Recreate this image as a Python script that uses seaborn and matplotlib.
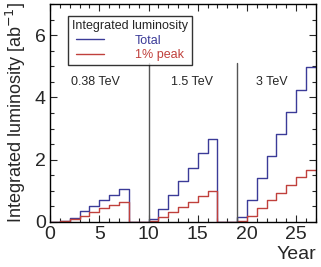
import numpy as np
import pandas as pd
import matplotlib
matplotlib.use("Agg")
import matplotlib.pyplot as plt
import seaborn as sns
from matplotlib.ticker import MultipleLocator

# bin edges (years) and integrated luminosity per year bin [ab^-1]
year_edges = list(range(0, 28))
total_lumi = [0.00, 0.04, 0.14, 0.34, 0.51, 0.69, 0.87, 1.06, 0.00, 0.00,
              0.10, 0.42, 0.87, 1.30, 1.74, 2.20, 2.65, 0.00, 0.00,
              0.15, 0.70, 1.40, 2.11, 2.82, 3.52, 4.24, 4.96]
peak_lumi = [0.00, 0.02, 0.08, 0.19, 0.31, 0.43, 0.54, 0.65, 0.00, 0.00,
             0.04, 0.16, 0.32, 0.48, 0.65, 0.82, 0.99, 0.00, 0.00,
             0.04, 0.20, 0.46, 0.70, 0.94, 1.17, 1.43, 1.67]
stage_starts = [10, 19]
stage_labels = ["0.38 TeV", "1.5 TeV", "3 TeV"]
stage_label_x = [4.6, 14.4, 22.5]

BLUE = "#3b3b98"
RED = "#c0403c"

sns.set_style("ticks")
plt.rcParams["font.family"] = ["Liberation Sans", "DejaVu Sans"]

# steps-post needs the last value repeated at the final edge
df = pd.DataFrame({
    "year": year_edges,
    "total": total_lumi + [total_lumi[-1]],
    "peak": peak_lumi + [peak_lumi[-1]],
})

fig = plt.figure(figsize=(3.21, 2.67), dpi=100)
ax = fig.add_axes([0.156, 0.169, 0.828, 0.816])

sns.lineplot(data=df, x="year", y="total", ax=ax, color=BLUE, lw=1.0,
             drawstyle="steps-post", estimator=None, label="Total")
sns.lineplot(data=df, x="year", y="peak", ax=ax, color=RED, lw=1.0,
             drawstyle="steps-post", estimator=None, label="1% peak")

for xs in stage_starts:
    ax.plot([xs, xs], [0, 5.1], color="#555555", lw=1.0)
for x, lab in zip(stage_label_x, stage_labels):
    ax.text(x, 4.5, lab, ha="center", va="center", fontsize=9)

ax.set_xlim(0, 27)
ax.set_ylim(0, 7)
ax.xaxis.set_major_locator(MultipleLocator(5))
ax.xaxis.set_minor_locator(MultipleLocator(1))
ax.yaxis.set_major_locator(MultipleLocator(2))
ax.yaxis.set_minor_locator(MultipleLocator(0.5))
ax.tick_params(which="both", direction="in", top=True, right=True,
               labelsize=14, width=0.8, pad=3)
ax.tick_params(which="major", length=5)
ax.tick_params(which="minor", length=3)
for s in ax.spines.values():
    s.set_linewidth(1.0)
    s.set_color("black")

ax.set_xlabel("Year", fontsize=14, loc="right", labelpad=2)
ax.set_ylabel("Integrated luminosity [ab$^{-1}$]", fontsize=13, labelpad=5)

leg = ax.legend(title="Integrated luminosity", loc="upper left",
                bbox_to_anchor=(0.045, 0.972), fontsize=9, title_fontsize=9,
                frameon=True, fancybox=False, edgecolor="black",
                handlelength=2.2, handletextpad=2.5, borderpad=0.3,
                labelspacing=0.2)
leg.get_frame().set_linewidth(1.0)
for t, c in zip(leg.get_texts(), [BLUE, RED]):
    t.set_color(c)

fig.savefig("out.png", dpi=100)
